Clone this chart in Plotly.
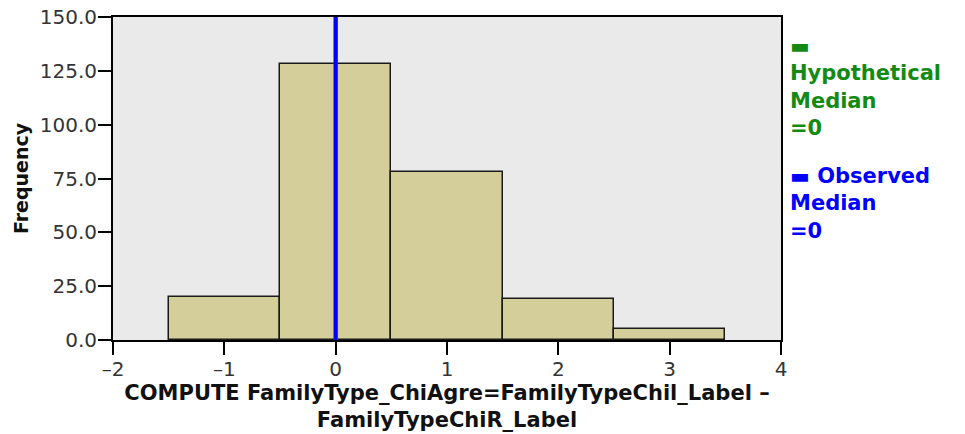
# Histogram of FamilyType_ChiAgre with hypothetical / observed median lines (SPSS style)

import plotly.graph_objects as go

# ------------------------------
# Data
# ------------------------------
bin_centers = [-1, 0, 1, 2, 3]
frequencies = [20, 128, 78, 19, 5]
bin_width = 1

hypothetical_median = 0
observed_median = 0

x_ticks = [-2, -1, 0, 1, 2, 3, 4]
y_ticks = [0, 25, 50, 75, 100, 125, 150]

# ------------------------------
# Figure
# ------------------------------
font_family = "DejaVu Sans, Verdana, sans-serif"

fig = go.Figure()

fig.add_trace(go.Bar(
    x=bin_centers,
    y=frequencies,
    width=bin_width,
    marker=dict(color='#d4ce9b', line=dict(color='#1a1a1a', width=1.5)),
    showlegend=False,
    hoverinfo='x+y'
))

# median reference lines
fig.add_vline(x=hypothetical_median, line_color='#138a13', line_width=4)
fig.add_vline(x=observed_median, line_color='#0000ff', line_width=4)

# legend, drawn as text to the right of the plot
fig.add_annotation(
    xref='paper', yref='paper', x=1.01, y=0.955,
    xanchor='left', yanchor='top', align='left', showarrow=False,
    text='<b>▬<br>Hypothetical<br>Median<br>=0</b>',
    font=dict(family=font_family, size=21, color='#138a13')
)
fig.add_annotation(
    xref='paper', yref='paper', x=1.01, y=0.55,
    xanchor='left', yanchor='top', align='left', showarrow=False,
    text='<b>▬ Observed<br>Median<br>=0</b>',
    font=dict(family=font_family, size=21, color='#0000ff')
)

fig.update_layout(
    width=965,
    height=434,
    margin=dict(l=113, r=184, t=17, b=94),
    paper_bgcolor='white',
    plot_bgcolor='#eaeaea',
    bargap=0,
    showlegend=False,
    font=dict(family=font_family, color='#333333'),
    xaxis=dict(
        range=[-2, 4],
        tickvals=x_ticks,
        ticktext=[str(v).replace('-', '–') for v in x_ticks],
        ticks='outside', ticklen=13, tickwidth=2, tickcolor='black',
        showline=True, linecolor='black', linewidth=2, mirror=True,
        showgrid=False, zeroline=False, automargin=False,
        ticklabelstandoff=-3, ticklabeloverflow='allow',
        tickfont=dict(size=20, color='#333333'),
        title=dict(
            text='<b>COMPUTE FamilyType_ChiAgre=FamilyTypeChil_Label –<br>FamilyTypeChiR_Label</b>',
            font=dict(size=21, color='#111111'),
            standoff=0
        )
    ),
    yaxis=dict(
        range=[0, 150],
        tickvals=y_ticks,
        ticktext=[f'{v:.1f}' for v in y_ticks],
        ticks='outside', ticklen=13, tickwidth=2, tickcolor='black',
        showline=True, linecolor='black', linewidth=2, mirror=True,
        showgrid=False, zeroline=False, automargin=False,
        ticklabelstandoff=-3, ticklabeloverflow='allow',
        tickfont=dict(size=20, color='#333333'),
        title=dict(
            text='<b>Frequency</b>',
            font=dict(size=19, color='#111111'),
            standoff=6
        )
    )
)

# drop the default 8px page margin so the figure fills the window
fig.write_html(
    "out.html",
    config={'displayModeBar': False},
    post_script="document.body.style.margin = '0';"
)
